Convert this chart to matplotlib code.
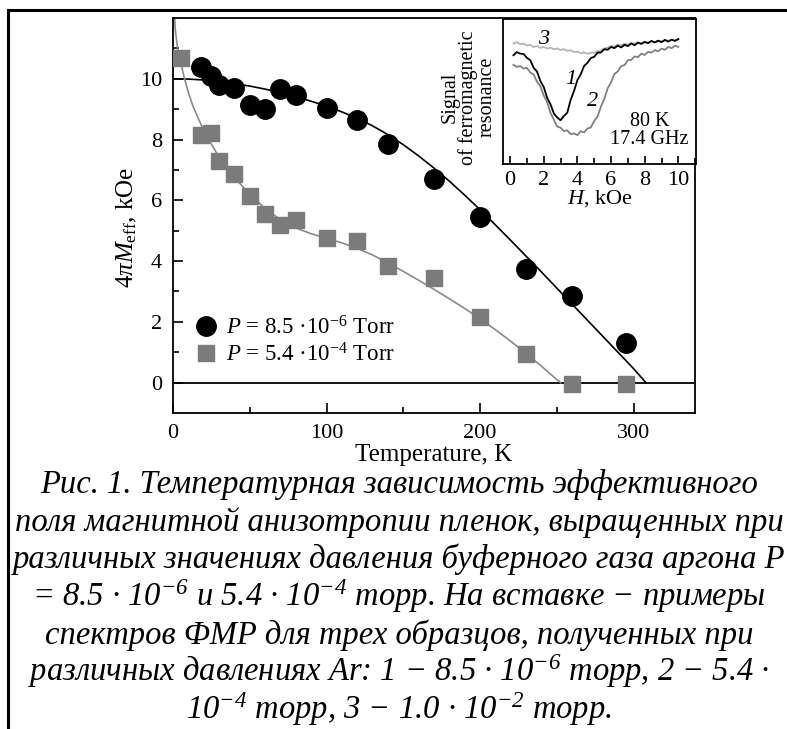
import matplotlib.pyplot as plt
from matplotlib.lines import Line2D
from matplotlib.ticker import MultipleLocator, FixedLocator

plt.rcParams['font.family'] = ['Liberation Serif', 'DejaVu Serif']
plt.rcParams['mathtext.fontset'] = 'custom'
plt.rcParams['mathtext.rm'] = 'Liberation Serif'
plt.rcParams['mathtext.it'] = 'Liberation Serif:italic'
plt.rcParams['mathtext.sf'] = 'Liberation Serif:italic'

# measured effective anisotropy field, kOe
temp_low = [18, 25, 30, 40, 50, 60, 70, 80, 100, 120, 140, 170, 200, 230, 260, 295]
field_low = [10.4, 10.1, 9.8, 9.7, 9.15, 9.0, 9.65, 9.45, 9.05, 8.65, 7.85, 6.7, 5.45, 3.75, 2.85, 1.3]
temp_high = [5, 18, 25, 30, 40, 50, 60, 70, 80, 100, 120, 140, 170, 200, 230, 260, 295]
field_high = [10.7, 8.15, 8.2, 7.3, 6.85, 6.15, 5.55, 5.2, 5.35, 4.75, 4.65, 3.85, 3.45, 2.15, 0.95, -0.06, -0.06]

# fitted curves
fit_temp_low = [0, 10, 20, 30, 40, 50, 60, 70, 80, 90, 100, 110, 120, 130, 140, 150, 160,
                170, 180, 190, 200, 210, 220, 230, 240, 250, 260, 270, 280, 290, 300, 308]
fit_low = [10.00, 9.99, 9.96, 9.91, 9.84, 9.76, 9.66, 9.54, 9.41, 9.26, 9.10, 8.91, 8.70, 8.45,
           8.16, 7.83, 7.46, 7.06, 6.63, 6.17, 5.69, 5.19, 4.68, 4.16, 3.64, 3.11, 2.58, 2.05,
           1.52, 0.99, 0.46, 0.0]
fit_temp_high = [0.5, 1.5, 3, 5, 7, 10, 13, 16, 20, 25, 30, 35, 40, 50, 60, 70, 80, 90, 100,
                 110, 120, 130, 140, 150, 160, 170, 180, 190, 200, 210, 220, 230, 240, 250, 252.5]
fit_high = [12.6, 11.6, 11.0, 10.55, 10.1, 9.55, 9.1, 8.75, 8.3, 7.85, 7.42, 7.06, 6.75, 6.2,
            5.73, 5.36, 5.09, 4.9, 4.75, 4.6, 4.42, 4.2, 3.94, 3.66, 3.37, 3.07, 2.76, 2.44,
            2.10, 1.74, 1.36, 0.96, 0.54, 0.10, 0.0]

# FMR spectra at 80 K, 17.4 GHz (arb. units)
field_h = [0.2, 0.4, 0.6, 0.8, 1.0, 1.2, 1.4, 1.6, 1.8, 2.0, 2.2, 2.4, 2.6, 2.8, 3.0, 3.2, 3.4,
           3.6, 3.8, 4.0, 4.2, 4.4, 4.6, 4.8, 5.0, 5.2, 5.4, 5.6, 5.8, 6.0, 6.2, 6.4, 6.6, 6.8,
           7.0, 7.2, 7.4, 7.6, 7.8, 8.0, 8.2, 8.4, 8.6, 8.8, 9.0, 9.2, 9.4, 9.6, 9.8, 10.0]
signal_1 = [75.0, 77.2, 76.1, 75.9, 73.2, 71.6, 66.4, 63.8, 57.3, 53.1, 45.8, 41.2, 34.9, 32.1,
            30.2, 33.1, 35.4, 44.2, 50.3, 57.8, 61.9, 67.6, 69.8, 73.1, 73.9, 76.8, 76.9, 79.2,
            78.8, 80.7, 79.9, 81.6, 80.4, 82.2, 81.3, 83.1, 81.9, 83.7, 82.8, 84.2, 83.3, 84.9,
            83.8, 85.1, 84.0, 85.6, 84.4, 85.7, 84.9, 86.2]
signal_2 = [68.4, 66.9, 67.6, 65.8, 66.3, 63.2, 61.7, 56.8, 53.6, 47.2, 42.7, 35.3, 30.6, 25.8,
            25.1, 22.7, 23.2, 20.6, 21.1, 19.9, 22.6, 21.8, 24.5, 25.2, 29.7, 32.8, 39.6, 44.9,
            52.2, 56.3, 62.1, 63.8, 67.5, 68.2, 71.6, 71.8, 74.2, 73.7, 76.1, 75.2, 77.3, 76.8,
            78.6, 77.7, 79.6, 78.8, 80.7, 79.9, 81.6, 80.8]
signal_3 = [83.2, 84.1, 82.6, 83.1, 81.7, 82.2, 80.6, 81.4, 80.1, 80.8, 79.6, 80.3, 79.1, 79.7,
            78.6, 79.2, 78.1, 78.4, 77.2, 77.5, 76.4, 77.0, 75.9, 76.8, 76.7, 77.9, 78.2, 79.8,
            80.2, 81.4, 81.1, 82.5, 81.9, 83.0, 82.4, 83.6, 82.9, 84.0, 83.2, 84.3, 83.6, 84.7,
            84.0, 85.0, 84.4, 85.4, 84.9, 85.8, 85.3, 86.1]

caption = [
    "Рис. 1. Температурная зависимость эффективного",
    "поля магнитной анизотропии пленок, выращенных при",
    "различных значениях давления буферного газа аргона P",
    "= 8.5 · 10$^{\\mathsf{-6}}$ и 5.4 · 10$^{\\mathsf{-4}}$ торр. На вставке − примеры",
    "спектров ФМР для трех образцов, полученных при",
    "различных давлениях Ar: 1 − 8.5 · 10$^{\\mathsf{-6}}$ торр, 2 − 5.4 ·",
    "10$^{\\mathsf{-4}}$ торр, 3 − 1.0 · 10$^{\\mathsf{-2}}$ торр.",
]

W, H = 787, 729
fig = plt.figure(figsize=(W / 100, H / 100), dpi=100)


def box(x0, y0, x1, y1):
    return [x0 / W, 1 - y1 / H, (x1 - x0) / W, (y1 - y0) / H]


# page frame
fig.add_artist(Line2D([8 / W, 8 / W], [0, 1 - 10 / H], color='black', lw=2.2))
fig.add_artist(Line2D([8 / W, 1], [1 - 10 / H, 1 - 10 / H], color='black', lw=2.2))

ax = fig.add_axes(box(173, 18, 695, 413))
fs = 16
ax.axhline(0, color='black', lw=1.3, zorder=1)
ax.plot(fit_temp_low, fit_low, color='black', lw=1.2, zorder=2)
ax.plot(fit_temp_high, fit_high, color='#8a8a8a', lw=1.2, zorder=2)
h1, = ax.plot(temp_low, field_low, 'o', color='black', ms=14, zorder=3,
              label='$P$ = 8.5 ·10$^{-6}$ Torr')
h2, = ax.plot(temp_high, field_high, 's', color='#7b7b7b', ms=12, zorder=3,
              label='$P$ = 5.4 ·10$^{-4}$ Torr')
ax.set_xlim(0, 340)
ax.set_ylim(-1, 12)
ax.xaxis.set_major_locator(MultipleLocator(100))
ax.xaxis.set_minor_locator(MultipleLocator(50))
ax.yaxis.set_major_locator(FixedLocator([0, 2, 4, 6, 8, 10]))
ax.yaxis.set_minor_locator(FixedLocator([1, 3, 5, 7, 9, 11]))
ax.tick_params(which='both', direction='in', labelsize=fs, width=1.2)
ax.tick_params(which='major', length=7, pad=8)
ax.tick_params(which='minor', length=4)
for s in ax.spines.values():
    s.set_linewidth(1.3)
ax.set_xlabel('Temperature, K', fontsize=18, labelpad=1)
ax.set_ylabel('4$\\pi M_{\\rm eff}$, kOe', fontsize=18)
ax.yaxis.set_label_coords(-0.066, 0.47)
ax.legend(handles=[h1, h2], loc='lower left', bbox_to_anchor=(0.043, 0.118),
          frameon=False, fontsize=16.5, handlelength=0.9, handletextpad=0.45,
          labelspacing=0.18, borderpad=0, borderaxespad=0)

# inset with FMR spectra
ins = fig.add_axes(box(503, 19, 696, 164))
ins.plot(field_h, signal_3, color='#b5b5b5', lw=1.3)
ins.plot(field_h, signal_2, color='#808080', lw=1.3)
ins.plot(field_h, signal_1, color='black', lw=1.3)
ins.set_xlim(-0.42, 11.05)
ins.set_ylim(0, 100)
ins.set_yticks([])
ins.xaxis.set_major_locator(MultipleLocator(2))
ins.xaxis.set_minor_locator(MultipleLocator(1))
ins.tick_params(which='both', direction='in', labelsize=fs, width=1.2)
ins.tick_params(which='major', length=6, pad=5)
ins.tick_params(which='minor', length=4)
for s in ins.spines.values():
    s.set_linewidth(1.3)
ins.set_xlabel('$H$, kOe', fontsize=fs, labelpad=-1)
ins.set_ylabel('Signal\nof ferromagnetic\nresonance', fontsize=14.5, linespacing=0.92)
ins.yaxis.set_label_coords(-0.035, 0.46)
ins.text(2.0, 86, '3', fontsize=fs, style='italic', ha='center', va='center')
ins.text(3.6, 58, '1', fontsize=fs, style='italic', ha='center', va='center')
ins.text(4.9, 43, '2', fontsize=fs, style='italic', ha='center', va='center')
ins.text(8.3, 23, '80 K\n17.4 GHz', fontsize=14.5, ha='center', va='center',
         linespacing=0.95)

# figure caption
for i, line in enumerate(caption):
    fig.text(399 / W, 1 - (493 + 37.7 * i) / H, line, fontsize=23.5, style='italic',
             ha='center', va='baseline')

fig.savefig('out.png', dpi=100, facecolor='white')
